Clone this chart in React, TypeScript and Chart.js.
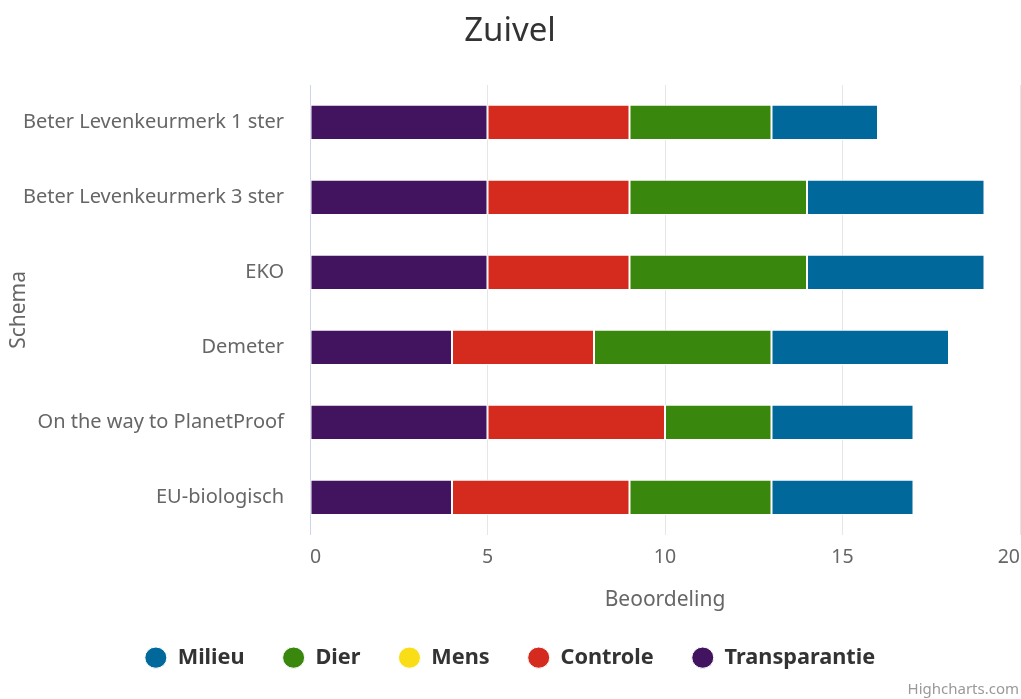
import React, { useEffect, useRef } from "react";
import { Chart, registerables } from "chart.js";

Chart.register(...registerables);

const titleText = "Zuivel";
const categories = [
  "Beter Levenkeurmerk 1 ster",
  "Beter Levenkeurmerk 3 ster",
  "EKO",
  "Demeter",
  "On the way to PlanetProof",
  "EU-biologisch",
];
const transparantie = [5, 5, 5, 4, 5, 4];
const controle = [4, 4, 4, 4, 5, 5];
const mens = [0, 0, 0, 0, 0, 0];
const dier = [4, 5, 5, 5, 3, 4];
const milieu = [3, 5, 5, 5, 4, 4];
const xTitle = "Beoordeling";
const yTitle = "Schema";

const FONT = "'Noto Sans', sans-serif";

export default function App() {
  const ref = useRef<HTMLCanvasElement>(null);
  useEffect(() => {
    const ctx = ref.current!;
    const mk = (label: string, data: number[], color: string) => ({
      label,
      data,
      backgroundColor: color,
      borderColor: "#ffffff",
      borderWidth: 1,
      borderSkipped: false,
      barPercentage: 0.47,
      categoryPercentage: 1,
    });
    const chart = new Chart(ctx, {
      type: "bar",
      data: {
        labels: categories,
        datasets: [
          mk("Transparantie", transparantie, "#42145f"),
          mk("Controle", controle, "#d52b1e"),
          mk("Mens", mens, "#f9dd16"),
          mk("Dier", dier, "#39870c"),
          mk("Milieu", milieu, "#01689b"),
        ],
      },
      options: {
        indexAxis: "y",
        responsive: false,
        animation: false,
        layout: { padding: { left: 0, right: 1, top: 0, bottom: 20.5 } },
        plugins: {
          title: {
            display: true,
            text: titleText,
            color: "#333333",
            font: { family: FONT, size: 33, weight: "normal" },
            padding: { top: 12, bottom: 33.4 },
          },
          legend: {
            position: "bottom",
            reverse: true,
            labels: {
              usePointStyle: true,
              pointStyle: "circle",
              pointStyleWidth: 22,
              boxHeight: 15,
              padding: 38,
              color: "#333333",
              font: { family: FONT, size: 21.7, weight: "bold" },
            },
          },
          tooltip: { enabled: false },
        },
        scales: {
          x: {
            stacked: true,
            min: 0,
            max: 20,
            ticks: {
              stepSize: 5,
              color: "#666666",
              padding: 11,
              align: "inner",
              font: { family: FONT, size: 19.5 },
            },
            grid: {
              drawTicks: false,
              color: (c: any) => (c.tick && c.tick.value === 0 ? "#ccd6eb" : "#e6e6e6"),
            },
            border: { display: false },
            title: {
              display: true,
              text: xTitle,
              color: "#666666",
              font: { family: FONT, size: 21 },
              padding: { top: 0, bottom: -4 },
            },
            afterFit: (s: any) => {
              s.height = 74;
              s.paddingLeft = 0;
              s.paddingRight = 0;
            },
          },
          y: {
            stacked: true,
            ticks: {
              color: "#666666",
              padding: 26,
              font: { family: FONT, size: 20 },
            },
            grid: { display: false, drawTicks: false },
            border: { display: true, color: "#ccd6eb" },
            title: {
              display: true,
              text: yTitle,
              color: "#666666",
              font: { family: FONT, size: 21 },
              padding: { top: 6, bottom: 0 },
            },
            afterFit: (s: any) => {
              s.width = 310;
            },
          },
        },
      },
    });
    return () => chart.destroy();
  }, []);
  return (
    <div style={{ position: "absolute", left: 0, top: 0, width: 1021, height: 699, background: "#fff" }}>
      <canvas ref={ref} width={1021} height={699} style={{ display: "block" }} />
      <div
        style={{
          position: "absolute",
          right: 2,
          bottom: 1,
          fontFamily: FONT,
          fontSize: 15,
          color: "#999999",
        }}
      >
        Highcharts.com
      </div>
    </div>
  );
}
